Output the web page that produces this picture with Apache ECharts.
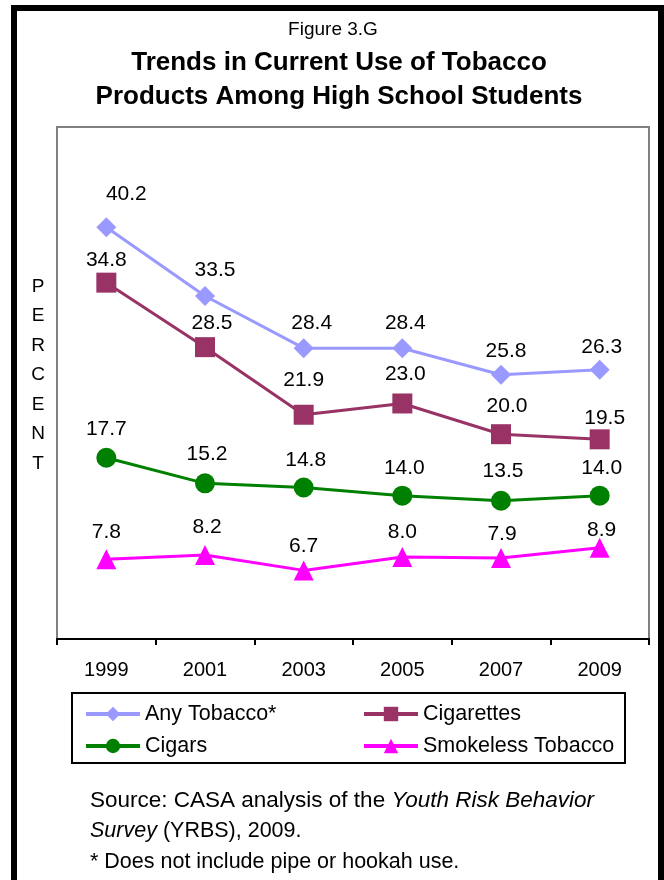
<!DOCTYPE html>
<html>
<head>
<meta charset="utf-8">
<script src="https://cdn.jsdelivr.net/npm/echarts@6/dist/echarts.min.js"></script>
<style>
html,body{margin:0;padding:0;background:#fff;}
#chart{width:664px;height:880px;}
</style>
</head>
<body>
<div id="chart"></div>
<script>
// ---- data ----
var years = ['1999', '2001', '2003', '2005', '2007', '2009'];
var anyTobacco = [40.2, 33.5, 28.4, 28.4, 25.8, 26.3];
var cigarettes = [34.8, 28.5, 21.9, 23.0, 20.0, 19.5];
var cigars = [17.7, 15.2, 14.8, 14.0, 13.5, 14.0];
var smokeless = [7.8, 8.2, 6.7, 8.0, 7.9, 8.9];
var seriesNames = ['Any Tobacco*', 'Cigarettes', 'Cigars', 'Smokeless Tobacco'];

// ---- label nudges (style only) ----
var nudgeAny = [[20,-8],[10,0],[8,1],[3,1],[5,2],[2,3]];
var nudgeCig = [[0,3],[7,2],[0,-9],[3,-4],[6,-2],[5,4]];
var nudgeCigar = [[0,-3],[2,-4],[2,-2],[2,-2],[2,-4],[2,-2]];
var nudgeSmk = [[0,-1],[2,-2],[0,1],[0,1],[1,2],[2,8]];

var FONT = "'Liberation Sans', Arial, sans-serif";

function withNudge(vals, nudge) {
  return vals.map(function (v, i) {
    return { value: v, label: { offset: nudge[i] } };
  });
}

function mkSeries(name, vals, nudge, color, symbol, z) {
  return {
    name: name,
    type: 'line',
    data: withNudge(vals, nudge),
    symbol: symbol,
    symbolSize: 20,
    z: z,
    lineStyle: { color: color, width: 3 },
    itemStyle: { color: color },
    label: {
      show: true,
      position: 'top',
      distance: 5,
      fontFamily: FONT,
      fontSize: 21,
      color: '#000',
      textBorderWidth: 0,
      formatter: function (p) { return p.value.toFixed(1); }
    },
    emphasis: { disabled: true },
    animation: false
  };
}

var chart = echarts.init(document.getElementById('chart'), null, { renderer: 'canvas' });

var legendCommon = {
  orient: 'vertical',
  top: 698,
  itemWidth: 54, itemHeight: 18, itemGap: 10,
  lineStyle: { width: 4 },
  textStyle: { fontFamily: FONT, fontSize: 21.5, color: '#000', lineHeight: 20 },
  selectedMode: false
};

var option = {
  backgroundColor: '#fff',
  animation: false,
  textStyle: { fontFamily: FONT },
  grid: {
    left: 57, right: 15, top: 127, bottom: 241,
    show: true, borderColor: '#808080', borderWidth: 2, backgroundColor: 'transparent'
  },
  xAxis: {
    type: 'category',
    data: years,
    boundaryGap: true,
    axisLine: { lineStyle: { color: '#000', width: 2 } },
    axisTick: { show: true, length: 6, lineStyle: { color: '#000', width: 2 } },
    axisLabel: { fontFamily: FONT, fontSize: 20, color: '#000', margin: 21 }
  },
  yAxis: {
    type: 'value',
    min: 0, max: 50,
    axisLine: { show: false },
    axisTick: { show: false },
    axisLabel: { show: false },
    splitLine: { show: false }
  },
  legend: [
    Object.assign({}, legendCommon, { data: ['Any Tobacco*', 'Cigars'], left: 79 }),
    Object.assign({}, legendCommon, { data: ['Cigarettes', 'Smokeless Tobacco'], left: 357 })
  ],
  graphic: [
    { type: 'rect', silent: true, z: 100,
      shape: { x: 14, y: 8, width: 647, height: 900 },
      style: { fill: 'none', stroke: '#000', lineWidth: 6 } },
    { type: 'rect', silent: true, z: 100,
      shape: { x: 72, y: 693, width: 553, height: 70 },
      style: { fill: 'none', stroke: '#000', lineWidth: 2 } },
    { type: 'text', silent: true, x: 333, y: 30,
      style: { text: 'Figure 3.G', font: '19px ' + FONT, fill: '#000', textAlign: 'center', textVerticalAlign: 'middle' } },
    { type: 'text', silent: true, x: 339, y: 63,
      style: { text: 'Trends in Current Use of Tobacco', font: 'bold 26px ' + FONT, fill: '#000', textAlign: 'center', textVerticalAlign: 'middle' } },
    { type: 'text', silent: true, x: 339, y: 97,
      style: { text: 'Products Among High School Students', font: 'bold 26px ' + FONT, fill: '#000', textAlign: 'center', textVerticalAlign: 'middle' } },
    { type: 'text', silent: true, x: 38, y: 375,
      style: { text: 'P\nE\nR\nC\nE\nN\nT', font: '19px ' + FONT, fill: '#000', textAlign: 'center', textVerticalAlign: 'middle', lineHeight: 29.5 } },
    { type: 'text', silent: true, x: 90, y: 801,
      style: { text: 'Source: CASA analysis of the {i|Youth Risk Behavior}', font: '22.5px ' + FONT, fill: '#000', textVerticalAlign: 'middle',
        rich: { i: { fontStyle: 'italic', fontSize: 22.5, fontFamily: FONT } } } },
    { type: 'text', silent: true, x: 90, y: 831,
      style: { text: '{i|Survey} (YRBS), 2009.', font: '21.5px ' + FONT, fill: '#000', textVerticalAlign: 'middle',
        rich: { i: { fontStyle: 'italic', fontSize: 21.5, fontFamily: FONT } } } },
    { type: 'text', silent: true, x: 90, y: 862,
      style: { text: '* Does not include pipe or hookah use.', font: '21.5px ' + FONT, fill: '#000', textVerticalAlign: 'middle' } }
  ],
  series: [
    mkSeries(seriesNames[0], anyTobacco, nudgeAny, '#9999FF', 'diamond', 4),
    mkSeries(seriesNames[1], cigarettes, nudgeCig, '#993366', 'rect', 3),
    mkSeries(seriesNames[2], cigars, nudgeCigar, '#008000', 'circle', 2),
    mkSeries(seriesNames[3], smokeless, nudgeSmk, '#FF00FF', 'triangle', 1)
  ]
};
chart.setOption(option);
</script>
</body>
</html>
